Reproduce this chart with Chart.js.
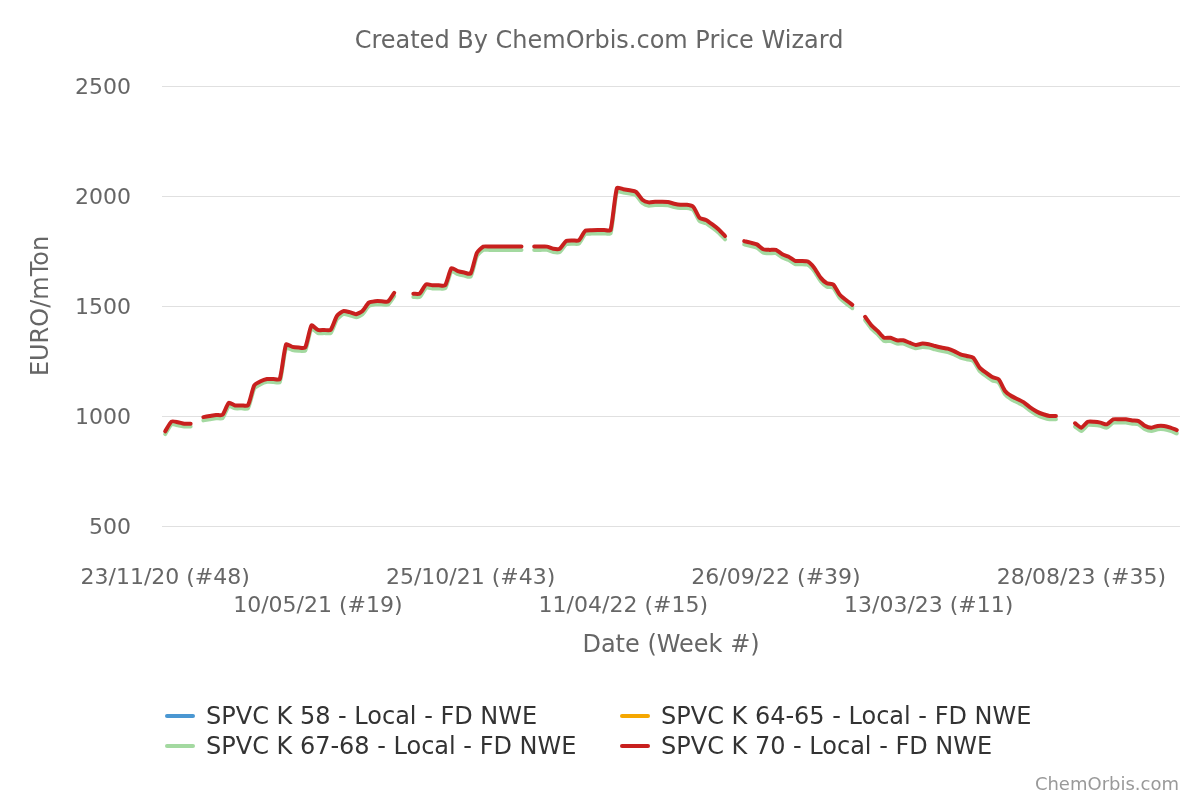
<!DOCTYPE html>
<html>
<head>
<meta charset="utf-8">
<script src="https://cdn.jsdelivr.net/npm/chart.js@4.4.1/dist/chart.umd.min.js"></script>
<style>
html,body{margin:0;padding:0;background:#ffffff;}
#wrap{width:1200px;height:800px;position:relative;}
</style>
</head>
<body>
<div id="wrap"><canvas id="c" width="1200" height="800"></canvas></div>
<script>
// ---- Texts ----
const titleText = 'Created By ChemOrbis.com Price Wizard';
const creditText = 'ChemOrbis.com';
const yAxisTitle = 'EURO/mTon';
const xAxisTitle = 'Date (Week #)';

// ---- Series names & colours ----
const seriesNames = [
  'SPVC K 58 - Local - FD NWE',
  'SPVC K 64-65 - Local - FD NWE',
  'SPVC K 67-68 - Local - FD NWE',
  'SPVC K 70 - Local - FD NWE'
];
const seriesColors = ['#4a97d2', '#f5a700', '#a3d9a0', '#c8201e'];

// ---- Categories: weekly dates from 23/11/20 ----
const startDate = '2020-11-23';
const weekCount = 160;
const labelEvery = 24;

// ---- Y ticks ----
const yTicks = [500, 1000, 1500, 2000, 2500];

// ---- Series values (EURO/mTon); null = no assessment that week ----
const k58 = [];   // no visible line in the reference
const k6465 = []; // no visible line in the reference
const k6768 = [
  918, 962, 958, 952, 952, null, 980, 985, 990, 990,
  1045, 1035, 1035, 1035, 1125, 1145, 1155, 1155, 1153, 1310,
  1300, 1297, 1297, 1398, 1377, 1377, 1377, 1440, 1463, 1458,
  1449, 1462, 1500, 1508, 1508, 1506, 1545, null, null, 1541,
  1541, 1583, 1580, 1580, 1580, 1658, 1645, 1638, 1633, 1728,
  1755, 1755, 1755, 1755, 1755, 1755, 1755, null, 1755, 1755,
  1755, 1745, 1745, 1780, 1783, 1783, 1826, 1829, 1830, 1830,
  1830, 2021, 2016, 2011, 2004, 1968, 1956, 1959, 1959, 1958,
  1950, 1945, 1945, 1936, 1886, 1876, 1856, 1833, 1803, null,
  null, 1780, 1773, 1765, 1743, 1740, 1740, 1720, 1709, 1690,
  1690, 1687, 1659, 1614, 1588, 1583, 1537, 1512, 1490, null,
  1436, 1397, 1371, 1341, 1341, 1329, 1329, 1318, 1308, 1314,
  1311, 1303, 1296, 1291, 1280, 1265, 1258, 1250, 1205, 1182,
  1162, 1152, 1099, 1076, 1061, 1046, 1023, 1005, 993, 985,
  985, null, null, 952, 932, 959, 959, 955, 947, 970,
  970, 970, 965, 962, 940, 932, 940, 940, 932, 921
];
const k70 = [
  930, 975, 972, 965, 965, null, 995, 1000, 1005, 1005,
  1060, 1048, 1048, 1048, 1139, 1158, 1168, 1168, 1167, 1325,
  1314, 1311, 1311, 1412, 1391, 1391, 1391, 1455, 1477, 1472,
  1463, 1477, 1515, 1522, 1522, 1520, 1560, null, null, 1556,
  1556, 1598, 1594, 1594, 1594, 1672, 1659, 1652, 1647, 1742,
  1770, 1770, 1770, 1770, 1770, 1770, 1770, null, 1770, 1770,
  1770, 1760, 1760, 1795, 1798, 1798, 1841, 1844, 1845, 1845,
  1845, 2036, 2031, 2026, 2019, 1983, 1971, 1974, 1974, 1973,
  1965, 1960, 1960, 1951, 1901, 1891, 1871, 1848, 1818, null,
  null, 1795, 1788, 1780, 1758, 1755, 1755, 1735, 1724, 1705,
  1705, 1702, 1674, 1629, 1603, 1598, 1552, 1527, 1505, null,
  1451, 1412, 1386, 1356, 1356, 1344, 1344, 1333, 1323, 1329,
  1326, 1318, 1311, 1306, 1295, 1280, 1273, 1265, 1220, 1197,
  1177, 1167, 1114, 1091, 1076, 1061, 1038, 1020, 1008, 1000,
  1000, null, null, 967, 947, 974, 974, 970, 962, 985,
  985, 985, 980, 977, 955, 947, 955, 955, 947, 936
];

// ---- Build category labels "dd/mm/yy (#ww)" ----
function isoWeek(d) {
  const t = new Date(Date.UTC(d.getUTCFullYear(), d.getUTCMonth(), d.getUTCDate()));
  const day = t.getUTCDay() || 7;
  t.setUTCDate(t.getUTCDate() + 4 - day);
  const yStart = new Date(Date.UTC(t.getUTCFullYear(), 0, 1));
  return Math.ceil(((t - yStart) / 86400000 + 1) / 7);
}
function pad2(n) { return (n < 10 ? '0' : '') + n; }
const categories = [];
{
  const s = new Date(startDate + 'T00:00:00Z');
  for (let i = 0; i < weekCount; i++) {
    const d = new Date(s.getTime() + i * 7 * 86400000);
    categories.push(pad2(d.getUTCDate()) + '/' + pad2(d.getUTCMonth() + 1) + '/' +
      pad2(d.getUTCFullYear() % 100) + ' (#' + isoWeek(d) + ')');
  }
}

const FONT = "'DejaVu Sans', 'Liberation Sans', sans-serif";

// ---- Custom plugin: title, legend in two columns, credit ----
const decorPlugin = {
  id: 'decor',
  afterDraw(chart) {
    const ctx = chart.ctx;
    ctx.save();
    // title
    ctx.font = '24px ' + FONT;
    ctx.fillStyle = '#666666';
    ctx.textAlign = 'center';
    ctx.textBaseline = 'middle';
    ctx.fillText(titleText, 599, 41.5);
    // legend
    const cols = [165, 620];
    const rows = [716, 746];
    const order = [0, 1, 2, 3];
    order.forEach((k, idx) => {
      const x = cols[idx % 2];
      const y = rows[Math.floor(idx / 2)];
      ctx.strokeStyle = seriesColors[k];
      ctx.lineWidth = 4;
      ctx.lineCap = 'round';
      ctx.beginPath();
      ctx.moveTo(x + 2, y);
      ctx.lineTo(x + 28, y);
      ctx.stroke();
      ctx.font = '24px ' + FONT;
      ctx.fillStyle = '#333333';
      ctx.textAlign = 'left';
      ctx.textBaseline = 'middle';
      ctx.fillText(seriesNames[k], x + 41, y + 1.5);
    });
    // credit
    ctx.font = '18px ' + FONT;
    ctx.fillStyle = '#999999';
    ctx.textAlign = 'right';
    ctx.textBaseline = 'middle';
    ctx.fillText(creditText, 1179, 785);
    ctx.restore();
  }
};

const seriesData = [k58, k6465, k6768, k70];
const datasets = seriesData.map((arr, k) => ({
  label: seriesNames[k],
  data: arr,
  borderColor: seriesColors[k],
  backgroundColor: seriesColors[k],
  borderWidth: 4,
  pointRadius: 0,
  pointHoverRadius: 0,
  tension: 0.2,
  borderCapStyle: 'round',
  borderJoinStyle: 'round',
  spanGaps: false,
  fill: false,
  order: 3 - k
}));

new Chart(document.getElementById('c'), {
  type: 'line',
  data: { labels: categories, datasets: datasets },
  plugins: [decorPlugin],
  options: {
    responsive: false,
    devicePixelRatio: 1,
    animation: false,
    layout: { autoPadding: false, padding: { top: 86, right: 20, bottom: 139.6, left: 20 } },
    plugins: {
      legend: { display: false },
      title: { display: false },
      tooltip: { enabled: false }
    },
    scales: {
      x: {
        type: 'category',
        offset: true,
        grid: { display: false, drawTicks: false },
        border: { display: false },
        afterFit: function (axis) { axis.height = 134.4; axis.paddingLeft = 0; axis.paddingRight = 0; },
        ticks: {
          autoSkip: false,
          maxRotation: 0,
          minRotation: 0,
          padding: 38,
          color: '#666666',
          font: { family: FONT, size: 22, lineHeight: 28 / 22 },
          callback: function (value, index) {
            if (index % labelEvery !== 0) return '';
            const lab = categories[index];
            return (index / labelEvery) % 2 === 0 ? [lab, ''] : ['', lab];
          }
        },
        title: {
          display: true,
          text: xAxisTitle,
          color: '#666666',
          font: { family: FONT, size: 24, lineHeight: 1.2 },
          padding: { top: 12, bottom: 0 }
        }
      },
      y: {
        min: yTicks[0],
        max: yTicks[yTicks.length - 1],
        afterBuildTicks: function (axis) { axis.ticks = yTicks.map(v => ({ value: v })); },
        afterFit: function (axis) { axis.width = 142; },
        grid: { color: '#e0e0e0', lineWidth: 1, drawTicks: false },
        border: { display: false },
        ticks: {
          padding: 31,
          color: '#666666',
          font: { family: FONT, size: 22, lineHeight: '4px' },
          callback: function (value) { return ['', String(value)]; }
        },
        title: {
          display: true,
          text: yAxisTitle,
          color: '#666666',
          font: { family: FONT, size: 24, lineHeight: 1.2 },
          padding: { top: 7.6, bottom: 0 }
        }
      }
    }
  }
});
</script>
</body>
</html>
